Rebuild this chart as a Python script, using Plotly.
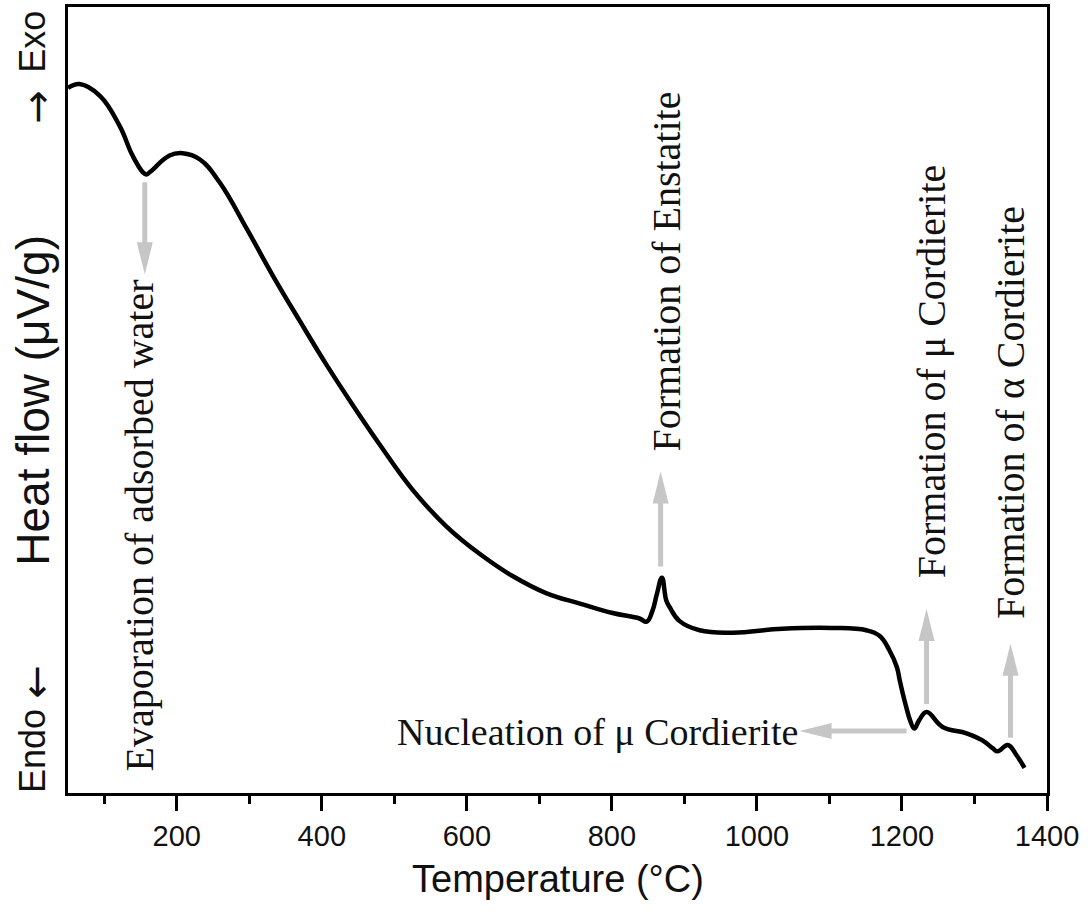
import plotly.graph_objects as go

# ---- DTA curve ----
temperature = [50, 66, 94, 121, 139, 153, 158, 163, 190, 208, 232, 259, 297, 332, 370, 407,
               443, 480, 525, 572, 618, 663, 710, 756, 801, 838, 848, 856, 862, 869, 875, 880,
               893, 921, 967, 1035, 1104, 1151, 1169, 1183, 1193, 1197, 1201, 1206, 1211, 1217,
               1224, 1234, 1256, 1289, 1311, 1325, 1332, 1346, 1358, 1369]
heat_flow = [89.7, 90.2, 88.7, 84.9, 81.1, 79.0, 78.7, 79.0, 81.1, 81.4, 80.6, 77.7, 71.7, 65.9, 60.0, 54.4,
             49.3, 44.3, 38.6, 33.9, 30.4, 27.6, 25.4, 24.1, 22.9, 22.2, 21.8, 23.2, 25.3, 27.4, 24.5, 23.6,
             21.9, 20.7, 20.4, 20.9, 21.0, 20.7, 20.0, 18.1, 16.0, 14.3, 12.7, 10.9, 9.3, 8.2,
             9.3, 10.3, 8.4, 7.6, 6.7, 5.7, 5.3, 6.1, 4.8, 3.2]

# ---- x axis ticks ----
x_tickvals = [200, 400, 600, 800, 1000, 1200, 1400]
x_ticktext = ["200", "400", "600", "800", "1000", "1200", "1400"]

# ---- event labels ----
label_texts = ["Evaporation of adsorbed water", "Formation of Enstatite",
               "Formation of \u03bc Cordierite", "Formation of \u03b1 Cordierite",
               "Nucleation of \u03bc Cordierite"]
label_T = [149, 875.5, 1240.8, 1349.7, 780.4]
label_v = [34.0, 66.3, 53.6, 48.4, 7.7]
label_angle = [-90, -90, -90, -90, 0]

# ---- arrows: tip position and direction ----
arrow_T = [155.9, 867.2, 1233.9, 1349.7, 1058.8]
arrow_v = [66.0, 40.9, 23.4, 19.0, 7.9]
arrow_dir = ["down", "up", "up", "up", "left"]
arrow_len = [92, 95, 95, 94, 107]

GREY = "#c6c6c6"
HEAD_L, HEAD_W, LINE_W = 32, 8, 5

fig = go.Figure()
fig.add_trace(go.Scatter(x=temperature, y=heat_flow, mode="lines",
                         line=dict(color="black", width=4.5, shape="spline", smoothing=1.2),
                         hoverinfo="skip", showlegend=False))

shapes = []
for T, v, d, L in zip(arrow_T, arrow_v, arrow_dir, arrow_len):
    ux, uy = {"down": (0, 1), "up": (0, -1), "left": (1, 0)}[d]
    px_, py_ = -uy, ux
    common = dict(xref="x", yref="y", xsizemode="pixel", ysizemode="pixel",
                  xanchor=T, yanchor=v, layer="above")
    shapes.append(dict(type="line", x0=ux * (HEAD_L - 2), y0=uy * (HEAD_L - 2),
                       x1=ux * L, y1=uy * L,
                       line=dict(color=GREY, width=LINE_W), **common))
    bx, by = ux * HEAD_L, uy * HEAD_L
    path = (f"M 0,0 L {bx + px_ * HEAD_W},{by + py_ * HEAD_W} "
            f"L {bx - px_ * HEAD_W},{by - py_ * HEAD_W} Z")
    shapes.append(dict(type="path", path=path, fillcolor=GREY,
                       line=dict(color=GREY, width=0), **common))

annotations = []
for txt, T, v, a in zip(label_texts, label_T, label_v, label_angle):
    annotations.append(dict(x=T, y=v, xref="x", yref="y", text=txt, showarrow=False,
                            textangle=a, xanchor="center", yanchor="middle",
                            font=dict(family="Liberation Serif", size=38 if a == 0 else 40,
                                      color="#111")))

sans = "Liberation Sans"
ylab_x = -0.036
annotations += [
    dict(x=0.5, y=-0.110, xref="paper", yref="paper", text="Temperature (\u00b0C)",
         showarrow=False, xanchor="center", yanchor="middle",
         font=dict(family=sans, size=38, color="#111")),
    dict(x=ylab_x, y=0.5, xref="paper", yref="paper", text="Heat flow (\u03bcV/g)",
         showarrow=False, textangle=-90, xanchor="center", yanchor="middle",
         font=dict(family=sans, size=46, color="#111")),
    dict(x=ylab_x, y=0.053, xref="paper", yref="paper", text="Endo",
         showarrow=False, textangle=-90, xanchor="center", yanchor="middle",
         font=dict(family=sans, size=36, color="#111")),
    dict(x=ylab_x + 0.004, y=0.141, xref="paper", yref="paper", text="\u2190",
         showarrow=False, textangle=-90, xanchor="center", yanchor="middle",
         font=dict(family="DejaVu Sans", size=40, color="#111")),
    dict(x=ylab_x, y=0.9556, xref="paper", yref="paper", text="Exo",
         showarrow=False, textangle=-90, xanchor="center", yanchor="middle",
         font=dict(family=sans, size=36, color="#111")),
    dict(x=ylab_x + 0.004, y=0.873, xref="paper", yref="paper", text="\u2192",
         showarrow=False, textangle=-90, xanchor="center", yanchor="middle",
         font=dict(family="DejaVu Sans", size=40, color="#111")),
]

fig.update_layout(
    width=1088, height=922,
    margin=dict(l=68, r=41, t=4, b=129),
    paper_bgcolor="white", plot_bgcolor="white",
    shapes=shapes, annotations=annotations,
    xaxis=dict(range=[50, 1400], tickvals=x_tickvals, ticktext=x_ticktext,
               ticks="outside", ticklen=15, tickwidth=2.5, tickcolor="black",
               showline=True, linewidth=2.5, linecolor="black", mirror=True,
               showgrid=False, zeroline=False,
               tickfont=dict(family=sans, size=29, color="#111"),
               minor=dict(dtick=100, tick0=0, ticks="outside", ticklen=8, tickwidth=2.5,
                          tickcolor="black", showgrid=False)),
    yaxis=dict(range=[0, 100], showticklabels=False, ticks="",
               showline=True, linewidth=2.5, linecolor="black", mirror=True,
               showgrid=False, zeroline=False),
)

fig.write_html("out.html")
